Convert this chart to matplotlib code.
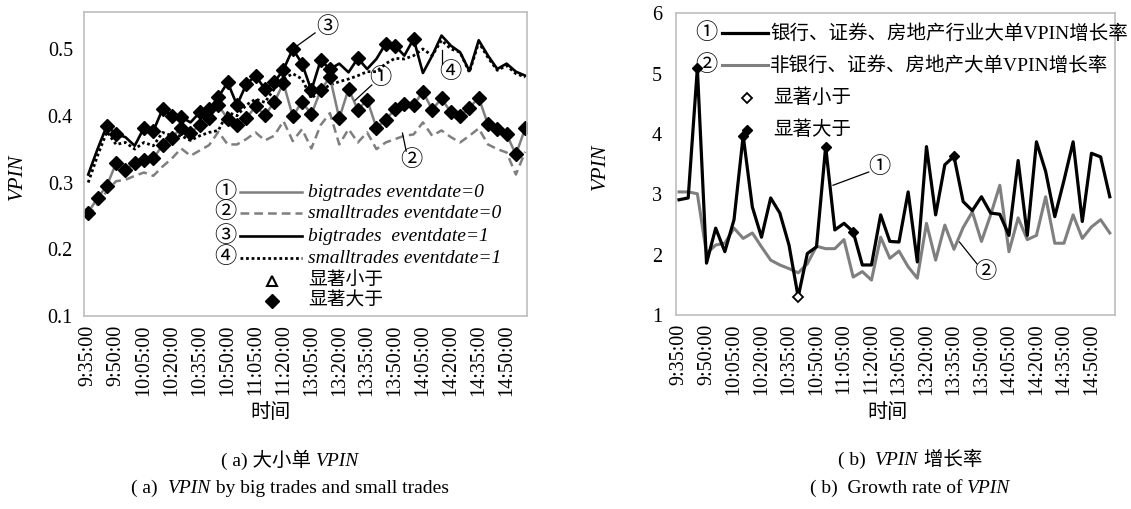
import numpy as np
import matplotlib
matplotlib.use("Agg")
import matplotlib.pyplot as plt
from matplotlib.lines import Line2D
from matplotlib.offsetbox import TextArea, HPacker, AnnotationBbox

plt.rcParams['font.family'] = ['Liberation Serif', 'Noto Sans CJK SC', 'DejaVu Sans']

# x axis: 5-minute intervals, every third one labelled
tick_labels = ['9:35:00', '9:50:00', '10:05:00', '10:20:00', '10:35:00', '10:50:00',
               '11:05:00', '11:20:00', '13:05:00', '13:20:00', '13:35:00', '13:50:00',
               '14:05:00', '14:20:00', '14:35:00', '14:50:00']

# (a) VPIN by big / small trades
big0 = [0.255, 0.277, 0.295, 0.329, 0.319, 0.329, 0.333, 0.336, 0.356, 0.367, 0.382, 0.374,
        0.386, 0.396, 0.416, 0.395, 0.386, 0.396, 0.414, 0.401, 0.420, 0.449, 0.399, 0.421,
        0.402, 0.438, 0.458, 0.396, 0.440, 0.409, 0.424, 0.382, 0.394, 0.410, 0.418, 0.416,
        0.436, 0.409, 0.426, 0.405, 0.399, 0.412, 0.427, 0.387, 0.380, 0.372, 0.342, 0.381]
small0 = [0.249, 0.268, 0.287, 0.302, 0.304, 0.310, 0.315, 0.310, 0.324, 0.336, 0.351, 0.340,
          0.348, 0.356, 0.376, 0.357, 0.357, 0.365, 0.375, 0.363, 0.370, 0.392, 0.362, 0.380,
          0.351, 0.386, 0.404, 0.357, 0.380, 0.360, 0.375, 0.350, 0.360, 0.365, 0.370, 0.372,
          0.390, 0.370, 0.378, 0.368, 0.360, 0.370, 0.381, 0.357, 0.350, 0.345, 0.312, 0.346]
big1 = [0.312, 0.350, 0.385, 0.372, 0.368, 0.355, 0.382, 0.377, 0.410, 0.400, 0.398, 0.390,
        0.405, 0.410, 0.428, 0.450, 0.416, 0.447, 0.460, 0.440, 0.450, 0.469, 0.500, 0.478,
        0.438, 0.483, 0.470, 0.478, 0.465, 0.486, 0.470, 0.485, 0.508, 0.505, 0.490, 0.515,
        0.464, 0.490, 0.520, 0.505, 0.495, 0.467, 0.513, 0.490, 0.470, 0.478, 0.466, 0.460]
small1 = [0.300, 0.340, 0.376, 0.357, 0.360, 0.350, 0.360, 0.355, 0.375, 0.370, 0.370, 0.363,
          0.370, 0.375, 0.378, 0.405, 0.400, 0.416, 0.425, 0.420, 0.440, 0.455, 0.463, 0.455,
          0.426, 0.438, 0.446, 0.451, 0.455, 0.460, 0.466, 0.466, 0.478, 0.486, 0.485, 0.490,
          0.500, 0.490, 0.513, 0.500, 0.495, 0.465, 0.510, 0.487, 0.468, 0.475, 0.463, 0.458]
sig_big1 = [2, 3, 6, 7, 8, 9, 10, 12, 13, 14, 15, 16, 17, 18, 19, 20, 21, 22, 23, 24, 25, 26,
            29, 32, 33, 35]

# (b) VPIN growth rate
bank = [2.91, 2.94, 5.09, 1.86, 2.44, 2.05, 2.58, 3.97, 2.79, 2.29, 2.94, 2.69,
        2.16, 1.30, 2.02, 2.13, 3.79, 2.41, 2.52, 2.38, 1.83, 1.83, 2.66, 2.22,
        2.21, 3.04, 1.88, 3.79, 2.66, 3.49, 3.63, 2.88, 2.73, 2.96, 2.69, 2.67,
        2.32, 3.56, 2.32, 3.87, 3.38, 2.63, 3.23, 3.87, 2.55, 3.68, 3.62, 2.96]
nonbank = [3.04, 3.04, 3.01, 2.02, 2.16, 2.19, 2.44, 2.27, 2.36, 2.13, 1.91, 1.83,
           1.77, 1.70, 1.85, 2.14, 2.10, 2.10, 2.25, 1.63, 1.72, 1.58, 2.29, 1.94,
           2.06, 1.80, 1.61, 2.52, 1.91, 2.49, 2.09, 2.45, 2.71, 2.22, 2.66, 3.15,
           2.05, 2.61, 2.25, 2.32, 2.96, 2.19, 2.19, 2.66, 2.27, 2.46, 2.58, 2.36]
sig_up = [2, 7, 16, 19, 30]
sig_down = [13]

GREY = '#7f7f7f'
SPINE = '#bdbdbd'
x = np.arange(len(big0))
tick_pos = x[::3]

fig = plt.figure(figsize=(11.31, 5.09), dpi=100)
ax1 = fig.add_axes([0.0743, 0.379, 0.3917, 0.597])
ax2 = fig.add_axes([0.5977, 0.381, 0.388, 0.593])

# ---- left panel ----
ax1.plot(x, small0, color=GREY, lw=1.8, ls=(0, (3.5, 2)))
ax1.plot(x, small1, color='black', lw=2.0, ls=(0, (1, 1)))
ax1.plot(x, big1, color='black', lw=1.9)
ax1.plot(x, big0, color=GREY, lw=1.8, marker='D', ms=7, mfc='black', mec='black')
ax1.plot(x[sig_big1], np.array(big1)[sig_big1], ls='none', marker='D', ms=7, color='black')

ax1.set_xlim(-0.45, 47.2)
ax1.set_ylim(0.1, 0.555)
ax1.set_yticks([0.1, 0.2, 0.3, 0.4, 0.5])
ax1.set_yticklabels(['0.1', '0.2', '0.3', '0.4', '0.5'])

# circled labels with leader lines
for num, (tx, ty), (p0, p1) in [('③', (25.7, 0.532), ((22, 0.500), (24.4, 0.524))),
                                ('①', (31.4, 0.455), ((28.7, 0.423), (30.5, 0.446))),
                                ('②', (34.8, 0.333), ((33.8, 0.374), (34.2, 0.347))),
                                ('④', (38.9, 0.464), ((38.1, 0.498), (38.1, 0.478)))]:
    ax1.plot([p0[0], p1[0]], [p0[1], p1[1]], color='black', lw=0.9)
    ax1.text(tx, ty, num, fontsize=16, ha='center', va='center')

# legend (a)
rows = [0.408, 0.339, 0.263, 0.191, 0.115, 0.049]
styles = [dict(color=GREY, lw=1.8), dict(color=GREY, lw=1.8, ls=(0, (3.5, 2))),
          dict(color='black', lw=1.9), dict(color='black', lw=2.0, ls=(0, (1, 1)))]
labels = ['bigtrades eventdate=0', 'smalltrades eventdate=0',
          'bigtrades  eventdate=1', 'smalltrades eventdate=1']
for i, (st, lab) in enumerate(zip(styles, labels)):
    ax1.text(0.318, rows[i], '①②③④'[i], transform=ax1.transAxes, fontsize=16,
             ha='center', va='center')
    ax1.add_artist(Line2D([0.352, 0.492], [rows[i], rows[i]], transform=ax1.transAxes, **st))
    ax1.text(0.506, rows[i], lab, transform=ax1.transAxes, fontsize=14, style='italic',
             ha='left', va='center')
ax1.add_artist(Line2D([0.424], [rows[4]], transform=ax1.transAxes, marker='^', ms=7,
                      mfc='white', mec='black', mew=1.5, ls='none'))
ax1.add_artist(Line2D([0.424], [rows[5]], transform=ax1.transAxes, marker='D', ms=7,
                      color='black', ls='none'))
ax1.text(0.506, rows[4], '显著小于', transform=ax1.transAxes, fontsize=13.5, va='center')
ax1.text(0.506, rows[5], '显著大于', transform=ax1.transAxes, fontsize=13.5, va='center')

ax1.set_ylabel('VPIN', fontsize=15, style='italic')
ax1.yaxis.set_label_coords(-0.128, 0.457)
ax1.set_xlabel('时间', fontsize=14.5)
ax1.xaxis.set_label_coords(0.42, -0.289)

# ---- right panel ----
ax2.plot(x, nonbank, color=GREY, lw=2.2)
ax2.plot(x, bank, color='black', lw=2.3)
ax2.plot(x[sig_up], np.array(bank)[sig_up], ls='none', marker='D', ms=5, color='black')
ax2.plot(x[sig_down], np.array(bank)[sig_down], ls='none', marker='D', ms=5,
         mfc='white', mec='black', mew=1.3)

ax2.set_xlim(-0.33, 47.55)
ax2.set_ylim(1, 6)
ax2.set_yticks([1, 2, 3, 4, 5, 6])

for num, (tx, ty), (p0, p1) in [('①', (21.9, 3.45), ((16.8, 3.15), (20.7, 3.37))),
                                ('②', (33.4, 1.70), ((30.6, 2.21), (32.5, 1.85)))]:
    ax2.plot([p0[0], p1[0]], [p0[1], p1[1]], color='black', lw=0.9)
    ax2.text(tx, ty, num, fontsize=16, ha='center', va='center')

# legend (b)
r2 = [0.934, 0.828, 0.719, 0.613]
ax2.text(0.070, r2[0], '①', transform=ax2.transAxes, fontsize=16, ha='center', va='center')
ax2.add_artist(Line2D([0.104, 0.21], [r2[0], r2[0]], transform=ax2.transAxes,
                      color='black', lw=2.3))
ax2.text(0.214, r2[0], '银行、证券、房地产行业大单VPIN增长率', transform=ax2.transAxes,
         fontsize=14, va='center')
ax2.text(0.070, r2[1], '②', transform=ax2.transAxes, fontsize=16, ha='center', va='center')
ax2.add_artist(Line2D([0.104, 0.21], [r2[1], r2[1]], transform=ax2.transAxes,
                      color=GREY, lw=2.2))
ax2.text(0.214, r2[1], '非银行、证券、房地产大单VPIN增长率', transform=ax2.transAxes,
         fontsize=14, va='center')
ax2.add_artist(Line2D([0.161], [r2[2]], transform=ax2.transAxes, marker='D', ms=5,
                      mfc='white', mec='black', mew=1.3, ls='none'))
ax2.add_artist(Line2D([0.161], [r2[3]], transform=ax2.transAxes, marker='D', ms=5,
                      color='black', ls='none'))
ax2.text(0.221, r2[2], '显著小于', transform=ax2.transAxes, fontsize=14, va='center')
ax2.text(0.221, r2[3], '显著大于', transform=ax2.transAxes, fontsize=14, va='center')

ax2.set_ylabel('VPIN', fontsize=15, style='italic')
ax2.yaxis.set_label_coords(-0.150, 0.49)
ax2.set_xlabel('时间', fontsize=14.5)
ax2.xaxis.set_label_coords(0.483, -0.295)

for ax, ypad in [(ax1, 8.0), (ax2, 10.0)]:
    ax.set_xticks(tick_pos)
    ax.set_xticklabels(tick_labels, rotation=90)
    ax.tick_params(axis='x', length=0, pad=6, labelsize=14.5)
    ax.tick_params(axis='y', length=0, pad=ypad, labelsize=14.5)
    for sp in ax.spines.values():
        sp.set_color(SPINE)
        sp.set_linewidth(1.2)


def caption(xf, yf, parts):
    boxes = [TextArea(s, textprops=dict(fontsize=14, style=st)) for s, st in parts]
    pack = HPacker(children=boxes, align='baseline', pad=0, sep=0)
    fig.add_artist(AnnotationBbox(pack, (xf, yf), xycoords='figure fraction',
                                  frameon=False, box_alignment=(0.5, 0.5)))


caption(0.2564, 0.0963, [('( a) 大小单 ', 'normal'), ('VPIN', 'italic')])
caption(0.2564, 0.0413, [('( a)  ', 'normal'), ('VPIN', 'italic'),
                         (' by big trades and small trades', 'normal')])
caption(0.8046, 0.0963, [('( b)  ', 'normal'), ('VPIN', 'italic'), (' 增长率', 'normal')])
caption(0.8046, 0.0413, [('( b)  Growth rate of ', 'normal'), ('VPIN', 'italic')])

fig.savefig('out.png', dpi=100)
